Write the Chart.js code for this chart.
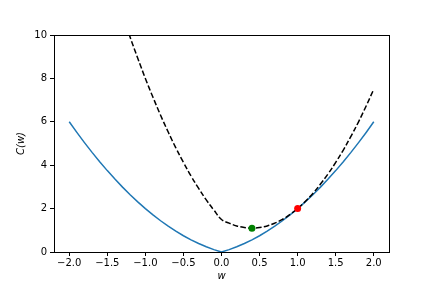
<!DOCTYPE html>
<html>
<head>
<meta charset="utf-8">
<script src="https://cdn.jsdelivr.net/npm/chart.js@4/dist/chart.umd.min.js"></script>
<style>
  html, body { margin: 0; padding: 0; background: #fff; }
  #wrap { width: 432px; height: 288px; }
</style>
</head>
<body>
<div id="wrap"><canvas id="c" width="432" height="288"></canvas></div>
<script>
// w values sampled along the horizontal axis
var wValues = [-2.0, -1.9, -1.8, -1.7, -1.6, -1.5, -1.4, -1.3, -1.2, -1.1, -1.0,
               -0.9, -0.8, -0.7, -0.6, -0.5, -0.4, -0.3, -0.2, -0.1, 0.0,
                0.1, 0.2, 0.3, 0.4, 0.5, 0.6, 0.7, 0.8, 0.9, 1.0,
                1.1, 1.2, 1.3, 1.4, 1.5, 1.6, 1.7, 1.8, 1.9, 2.0];
// solid blue curve C(w)
var costValues = [6.0, 5.51, 5.04, 4.59, 4.16, 3.75, 3.36, 2.99, 2.64, 2.31, 2.0,
                  1.71, 1.44, 1.19, 0.96, 0.75, 0.56, 0.39, 0.24, 0.11, 0.0,
                  0.11, 0.24, 0.39, 0.56, 0.75, 0.96, 1.19, 1.44, 1.71, 2.0,
                  2.31, 2.64, 2.99, 3.36, 3.75, 4.16, 4.59, 5.04, 5.51, 6.0];
// dashed black upper bound
var boundValues = [19.5, 18.13, 16.8, 15.53, 14.3, 13.13, 12.0, 10.93, 9.9, 8.93, 8.0,
                   7.13, 6.3, 5.53, 4.8, 4.13, 3.5, 2.93, 2.4, 1.93, 1.5,
                   1.33, 1.2, 1.13, 1.1, 1.13, 1.2, 1.33, 1.5, 1.73, 2.0,
                   2.33, 2.7, 3.13, 3.6, 4.13, 4.7, 5.33, 6.0, 6.73, 7.5];
var greenPoint = [0.4, 1.1];
var redPoint = [1.0, 2.0];
var xTicks = [-2.0, -1.5, -1.0, -0.5, 0.0, 0.5, 1.0, 1.5, 2.0];
var yTicks = [0, 2, 4, 6, 8, 10];

function toXY(xs, ys) {
    return xs.map(function (x, i) { return { x: x, y: ys[i] }; });
}
function fmt(v, d) {
    var s = Math.abs(v).toFixed(d);
    return (v < -1e-9 ? '\u2212' : '') + s;
}

var frame = {
    id: 'frame',
    afterDatasetsDraw: function (chart) {
        var a = chart.chartArea, ctx = chart.ctx;
        ctx.save();
        ctx.strokeStyle = '#000';
        ctx.lineWidth = 1;
        ctx.strokeRect(Math.round(a.left) + 0.5, Math.round(a.top) + 0.5,
                       Math.round(a.right - a.left), Math.round(a.bottom - a.top));
        ctx.restore();
    }
};

var tickFont = { family: 'DejaVu Sans', size: 10 };

new Chart(document.getElementById('c').getContext('2d'), {
    type: 'scatter',
    data: {
        datasets: [
            { data: [{ x: redPoint[0], y: redPoint[1] }], backgroundColor: '#ff0000', borderColor: '#ff0000',
              pointRadius: 3.5, borderWidth: 0, showLine: false },
            { data: [{ x: greenPoint[0], y: greenPoint[1] }], backgroundColor: '#008000', borderColor: '#008000',
              pointRadius: 3.5, borderWidth: 0, showLine: false },
            { data: toXY(wValues, boundValues), showLine: true, borderColor: '#000', borderWidth: 1.5,
              borderDash: [5.5, 2.4], pointRadius: 0, tension: 0.4 },
            { data: toXY(wValues, costValues), showLine: true, borderColor: '#1f77b4', borderWidth: 1.5,
              pointRadius: 0, tension: 0 }
        ]
    },
    options: {
        responsive: false,
        animation: false,
        layout: { padding: { left: 0, right: 43, top: 35, bottom: 0 } },
        plugins: { legend: { display: false }, tooltip: { enabled: false } },
        scales: {
            x: {
                type: 'linear', min: -2.2, max: 2.2,
                afterBuildTicks: function (s) { s.ticks = xTicks.map(function (v) { return { value: v }; }); },
                afterFit: function (s) { s.height = 36; },
                ticks: { color: '#000', font: tickFont, padding: 1, maxRotation: 0,
                         callback: function (v) { return fmt(v, 1); } },
                grid: { drawOnChartArea: false, drawTicks: true, tickLength: 4, color: '#000' },
                border: { color: '#000' },
                title: { display: true, text: 'w', color: '#000', padding: { top: 0, bottom: 6 },
                         font: { family: 'DejaVu Sans', size: 10, style: 'italic' } }
            },
            y: {
                type: 'linear', min: 0, max: 10,
                afterBuildTicks: function (s) { s.ticks = yTicks.map(function (v) { return { value: v }; }); },
                afterFit: function (s) { s.width = 54; },
                ticks: { color: '#000', font: tickFont, padding: 3,
                         callback: function (v) { return fmt(v, 0); } },
                grid: { drawOnChartArea: false, drawTicks: true, tickLength: 4, color: '#000' },
                border: { color: '#000' },
                title: { display: true, text: 'C(w)', color: '#000', padding: { top: 15, bottom: 0 },
                         font: { family: 'DejaVu Sans', size: 10, style: 'italic' } }
            }
        }
    },
    plugins: [frame]
});
</script>
</body>
</html>
